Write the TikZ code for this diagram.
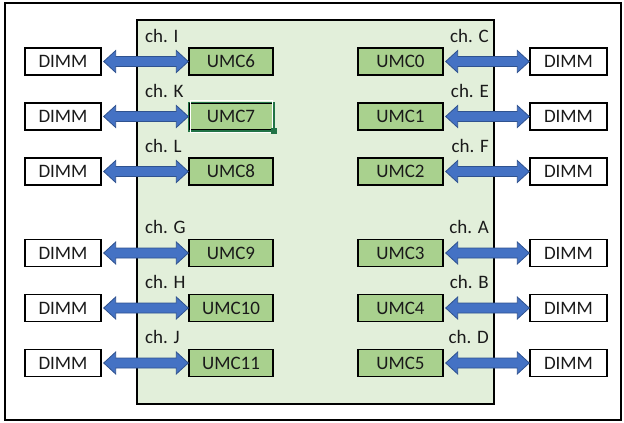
\documentclass[tikz,border=0pt]{standalone}
\usepackage{fontspec}
\setmainfont{Carlito}
\usetikzlibrary{calc}
\definecolor{chipfill}{HTML}{E2EFDA}
\definecolor{umcfill}{HTML}{A9D18E}
\definecolor{arrfill}{HTML}{4472C4}
\definecolor{arrdraw}{HTML}{2F528F}
\definecolor{xlgreen}{HTML}{217346}
\definecolor{txt}{HTML}{1A1A1A}
\tikzset{
  dimm/.style={draw=black, line width=1.4pt, fill=white, minimum width=76pt, minimum height=27pt, inner sep=0pt, text=txt},
  umc/.style={draw=black, line width=1.4pt, fill=umcfill, minimum width=84pt, minimum height=27pt, inner sep=0pt, text=txt},
  chlabel/.style={inner sep=0pt, text=txt},
  busarrow/.style={fill=arrfill, draw=arrdraw, line width=0.8pt, line join=miter}
}
\newcommand{\busLR}[2]{%
  \path[busarrow] ($(#1.east)+(2pt,0)$) -- ($(#1.east)+(14pt,-11pt)$) -- ($(#1.east)+(14pt,-5pt)$)
    -- ($(#2.west)+(-12pt,-5pt)$) -- ($(#2.west)+(-12pt,-11pt)$) -- (#2.west)
    -- ($(#2.west)+(-12pt,11pt)$) -- ($(#2.west)+(-12pt,5pt)$)
    -- ($(#1.east)+(14pt,5pt)$) -- ($(#1.east)+(14pt,11pt)$) -- cycle;}
\begin{document}
\begin{tikzpicture}[x=1pt,y=-1pt, font=\fontsize{19}{22}\selectfont]
\useasboundingbox (0,0) rectangle (624,423);
\draw[line width=2pt] (5,3) rectangle (621,420);
\draw[line width=1.5pt, fill=chipfill] (137,20) rectangle (494,404);
% left side
\foreach \y/\u/\c/\n in {61.5/UMC6/I/a, 116.5/UMC7/K/b, 171.5/UMC8/L/c, 253/UMC9/G/d, 308/UMC10/H/e, 363/UMC11/J/f}{
  \node[dimm] (ld\n) at (63,\y) {DIMM};
  \node[umc] (lu\n) at (231,\y) {\u};
  \node[chlabel, anchor=west] (lc\n) at (145,\y-26) {ch. \c};
}
% right side
\foreach \y/\u/\c/\n in {61.5/UMC0/C/a, 116.5/UMC1/E/b, 171.5/UMC2/F/c, 253/UMC3/A/d, 308/UMC4/B/e, 363/UMC5/D/f}{
  \node[umc, minimum width=85pt] (ru\n) at (400.5,\y) {\u};
  \node[dimm, minimum width=77pt] (rd\n) at (568.5,\y) {DIMM};
  \node[chlabel, anchor=east] (rc\n) at (489,\y-26) {ch. \c};
}
% Excel selection on UMC7
\draw[xlgreen, line width=1.6pt] (lub.south west) rectangle (lub.north east);
\draw[white, line width=0.6pt] ($(lub.south west)+(1.6pt,-1.6pt)$) rectangle ($(lub.north east)+(-1.6pt,1.6pt)$);
\fill[xlgreen] ($(lub.south east)+(-3pt,-3pt)$) rectangle ($(lub.south east)+(3pt,3pt)$);
% arrows
\foreach \n in {a,b,c,d,e,f}{
  \busLR{ld\n}{lu\n}
  \busLR{ru\n}{rd\n}
}
\end{tikzpicture}
\end{document}
